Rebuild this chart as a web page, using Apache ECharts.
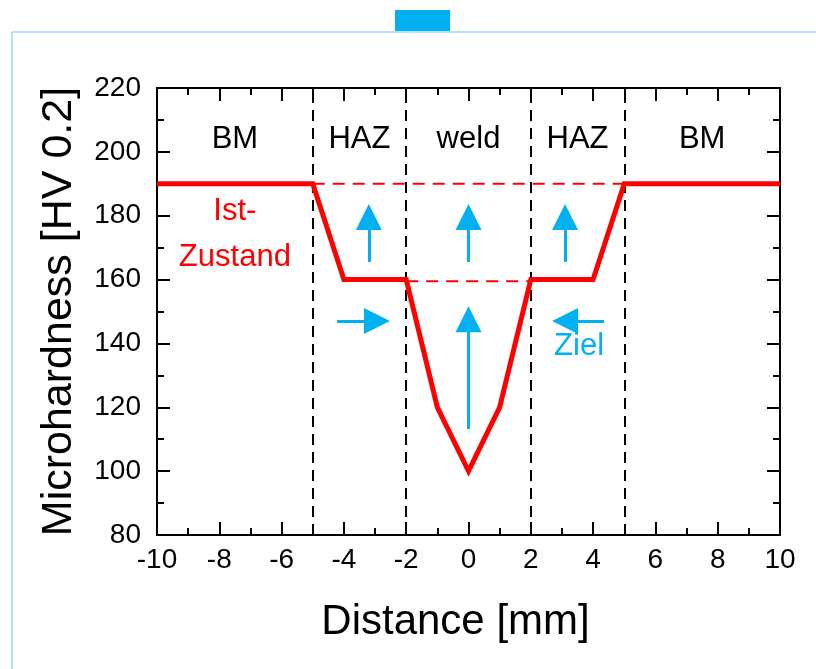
<!DOCTYPE html>
<html>
<head>
    <meta charset="utf-8">
    <title>index</title>
    <style>
        html, body { margin: 0; padding: 0; background: #fff; }
        #container { width: 816px; height: 669px; }
    </style>
</head>
<body>
    <div id="container"></div>
    <script src="https://cdn.jsdelivr.net/npm/echarts@6/dist/echarts.min.js"></script>
    <script type="text/javascript">
        // Ist-Zustand hardness profile
        var distance = [-10, -5, -4, -2, -1, 0, 1, 2, 4, 5, 10];
        var hardness = [190, 190, 160, 160, 120, 100, 120, 160, 160, 190, 190];

        // zone boundaries (black dashed)
        var zoneBounds = [-5, -2, 2, 5];
        var zoneNames = ['BM', 'HAZ', 'weld', 'HAZ', 'BM'];
        var zoneCenters = [-7.5, -3.5, 0, 3.5, 7.5];
        var zoneLabelY = 204;

        // target levels (red dashed)
        var targetHigh = { from: -5, to: 5, value: 190 };
        var targetLow = { from: -2, to: 2, value: 159.5 };

        // blue arrows: [x1, y1, x2, y2]
        var arrows = [
            [-3.2, 165.5, -3.2, 179.6],
            [0, 165.5, 0, 179.6],
            [3.1, 165.5, 3.1, 179.6],
            [0, 113.2, 0, 147.6],
            [-4.22, 147, -2.94, 147],
            [4.35, 147, 3.1, 147]
        ];

        var font = 'Liberation Sans, Arial, sans-serif';
        var blue = '#00b0f0';

        function textPoint(x, y, txt, color) {
            return { value: [x, y], label: { formatter: txt, color: color } };
        }

        var labelData = [];
        for (var i = 0; i < zoneNames.length; i++) {
            labelData.push(textPoint(zoneCenters[i], zoneLabelY, zoneNames[i], '#000'));
        }
        labelData.push(textPoint(-7.5, 181.2, 'Ist-', '#ff0000'));
        labelData.push(textPoint(-7.5, 166.8, 'Zustand', '#ff0000'));
        labelData.push(textPoint(3.55, 139, 'Ziel', blue));

        var axisCommon = {
            axisLine: { show: true, onZero: false, lineStyle: { color: '#000', width: 2 } },
            axisTick: { show: true, inside: true, length: 13, lineStyle: { color: '#000', width: 2 } },
            minorTick: { show: true, splitNumber: 2, length: 7, lineStyle: { color: '#000', width: 2 } },
            splitLine: { show: false }
        };

        var myChart = echarts.init(document.getElementById('container'));
        var option = {
            animation: false,
            textStyle: { fontFamily: font },
            graphic: [
                { type: 'rect', shape: { x: 12, y: 32, width: 900, height: 800 },
                  style: { fill: 'none', stroke: '#5ecbf3', lineWidth: 1 }, silent: true },
                { type: 'rect', shape: { x: 395, y: 10, width: 55, height: 21 },
                  style: { fill: blue }, silent: true }
            ],
            grid: { left: 157, right: 36, top: 88, bottom: 134 },
            xAxis: [
                Object.assign({}, axisCommon, {
                    type: 'value', min: -10, max: 10, interval: 2, position: 'bottom',
                    axisLabel: { fontSize: 28, color: '#000', margin: 11, fontFamily: font },
                    name: 'Distance [mm]', nameLocation: 'middle', nameGap: 66,
                    nameTextStyle: { fontSize: 42, color: '#000', fontFamily: font, padding: [0, 26, 0, 0] }
                }),
                Object.assign({}, axisCommon, {
                    type: 'value', min: -10, max: 10, interval: 2, position: 'top',
                    axisLabel: { show: false }
                })
            ],
            yAxis: [
                Object.assign({}, axisCommon, {
                    type: 'value', min: 80, max: 220, interval: 20, position: 'left',
                    axisLabel: { fontSize: 28, color: '#000', margin: 16, fontFamily: font },
                    name: 'Microhardness [HV 0.2]', nameLocation: 'middle', nameGap: 76,
                    nameTextStyle: { fontSize: 43, color: '#000', fontFamily: font }
                }),
                Object.assign({}, axisCommon, {
                    type: 'value', min: 80, max: 220, interval: 20, position: 'right',
                    axisLabel: { show: false }
                })
            ],
            series: [
                {
                    type: 'line',
                    data: [[targetHigh.from, targetHigh.value], [targetHigh.to, targetHigh.value]],
                    symbol: 'none', silent: true,
                    lineStyle: { color: '#ff0000', width: 2, type: [12, 8] },
                    markLine: {
                        silent: true, symbol: 'none', label: { show: false },
                        lineStyle: { color: '#000', width: 2, type: [11, 7] },
                        data: zoneBounds.map(function (b) { return { xAxis: b }; })
                    }
                },
                {
                    type: 'line',
                    data: [[targetLow.from, targetLow.value], [targetLow.to, targetLow.value]],
                    symbol: 'none', silent: true,
                    lineStyle: { color: '#ff0000', width: 2, type: [12, 8] }
                },
                {
                    type: 'line',
                    data: distance.map(function (d, k) { return [d, hardness[k]]; }),
                    symbol: 'none', z: 5,
                    lineStyle: { color: '#ff0000', width: 5, join: 'miter' }
                },
                {
                    type: 'lines',
                    coordinateSystem: 'cartesian2d',
                    symbol: ['none', 'triangle'],
                    symbolSize: [16, 26],
                    lineStyle: { color: blue, width: 3, opacity: 1 },
                    itemStyle: { color: blue },
                    data: arrows.map(function (a) {
                        return { coords: [[a[0], a[1]], [a[2], a[3]]] };
                    }),
                    z: 4
                },
                {
                    type: 'scatter',
                    symbolSize: 0,
                    silent: true,
                    itemStyle: { opacity: 1 },
                    data: labelData,
                    label: { show: true, position: 'inside', fontSize: 31, fontFamily: font, textBorderWidth: 0 },
                    z: 6
                }
            ]
        };
        myChart.setOption(option);
    </script>
</body>
</html>
